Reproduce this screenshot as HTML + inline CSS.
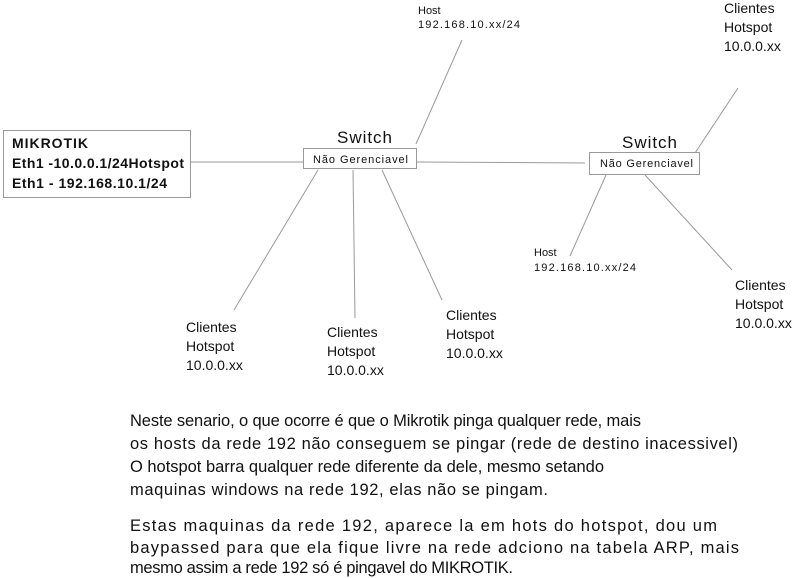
<!DOCTYPE html>
<html><head><style>html,body{margin:0;padding:0;background:#fff}svg{display:block}</style></head>
<body>
<svg width="800" height="578" xmlns="http://www.w3.org/2000/svg" font-family="Liberation Sans, sans-serif" fill="#111">
<g stroke="#999" stroke-width="1" fill="none">
<rect x="3.5" y="130.5" width="187" height="67"/>
<rect x="303.5" y="148.5" width="113" height="20"/>
<rect x="589.5" y="152.5" width="110" height="22"/>
<line x1="190" y1="162" x2="303" y2="162"/>
<line x1="416" y1="162" x2="585" y2="163"/>
<line x1="462" y1="40" x2="416" y2="144"/>
<line x1="738" y1="88" x2="695" y2="153"/>
<line x1="318" y1="170" x2="234" y2="310"/>
<line x1="353" y1="170" x2="355" y2="318"/>
<line x1="382" y1="170" x2="442" y2="300"/>
<line x1="606" y1="175" x2="570" y2="256"/>
<line x1="645" y1="175" x2="732" y2="270"/>
</g>
<g font-weight="bold" font-size="14">
<text x="12" y="148" textLength="76">MIKROTIK</text>
<text x="12" y="168" textLength="172">Eth1 -10.0.0.1/24Hotspot</text>
<text x="12" y="188" textLength="155">Eth1 - 192.168.10.1/24</text>
</g>
<text x="337" y="143" font-size="17" textLength="55">Switch</text>
<text x="313" y="163" font-size="11" textLength="95">Não Gerenciavel</text>
<text x="622" y="148" font-size="17" textLength="55">Switch</text>
<text x="600" y="167" font-size="11" textLength="93">Não Gerenciavel</text>
<g font-size="11">
<text x="418" y="14">Host</text><text x="418" y="28" textLength="102">192.168.10.xx/24</text>
<text x="534" y="256">Host</text><text x="534" y="271" textLength="102">192.168.10.xx/24</text>
</g>
<g font-size="14">
<text x="724" y="13">Clientes</text><text x="724" y="32">Hotspot</text><text x="724" y="51">10.0.0.xx</text>
<text x="186" y="332">Clientes</text><text x="186" y="351">Hotspot</text><text x="186" y="370">10.0.0.xx</text>
<text x="327" y="337">Clientes</text><text x="327" y="356">Hotspot</text><text x="327" y="375">10.0.0.xx</text>
<text x="446" y="320">Clientes</text><text x="446" y="339">Hotspot</text><text x="446" y="358">10.0.0.xx</text>
<text x="735" y="290">Clientes</text><text x="735" y="309">Hotspot</text><text x="735" y="328">10.0.0.xx</text>
</g>
<g font-size="16.5">
<text x="130" y="426" textLength="511">Neste senario, o que ocorre é que o Mikrotik pinga qualquer rede, mais</text>
<text x="130" y="449" textLength="608">os hosts da rede 192 não conseguem se pingar (rede de destino inacessivel)</text>
<text x="130" y="472" textLength="474">O hotspot barra qualquer rede diferente da dele, mesmo setando</text>
<text x="130" y="495" textLength="418">maquinas windows na rede 192, elas não se pingam.</text>
<text x="130" y="531" textLength="587">Estas maquinas da rede 192, aparece la em hots do hotspot, dou um</text>
<text x="130" y="553" textLength="609">baypassed para que ela fique livre na rede adciono na tabela ARP, mais</text>
<text x="130" y="573" textLength="383">mesmo assim a rede 192 só é pingavel do MIKROTIK.</text>
</g>
</svg>
</body></html>
